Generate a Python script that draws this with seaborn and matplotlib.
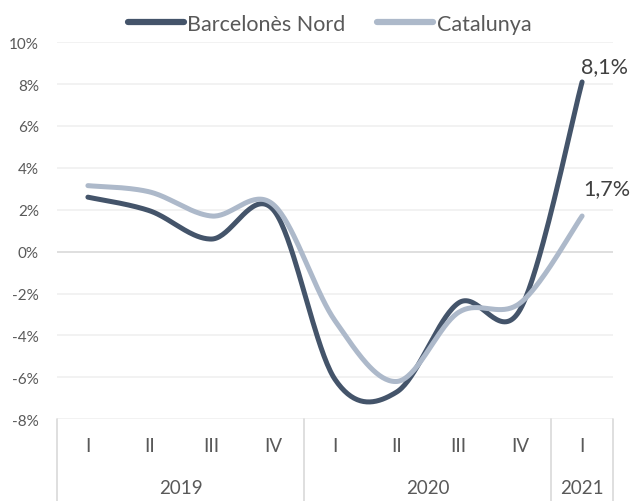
import numpy as np
import pandas as pd
import matplotlib.pyplot as plt
from matplotlib.path import Path
import seaborn as sns

# quarterly year-on-year change (%)
quarters = ["I", "II", "III", "IV", "I", "II", "III", "IV", "I"]
years = ["2019", "2020", "2021"]
year_len = [4, 4, 1]
barcelones_nord = [2.6, 1.95, 0.6, 2.0, -6.1, -6.7, -2.45, -2.75, 8.1]
catalunya = [3.15, 2.85, 1.7, 2.25, -3.3, -6.2, -2.9, -2.45, 1.7]
series_names = ["Barcelonès Nord", "Catalunya"]
colors = ["#44546A", "#ADB9CA"]
end_labels = ["8,1%", "1,7%"]


def smooth(ys, n=40):
    # Excel-like smoothed line: cubic Bezier segments with Catmull-Rom tangents
    p = np.column_stack([np.arange(len(ys), dtype=float), ys])
    verts, codes = [p[0]], [Path.MOVETO]
    for i in range(len(p) - 1):
        p0 = p[i - 1] if i > 0 else p[i]
        p3 = p[i + 2] if i + 2 < len(p) else p[i + 1]
        verts += [p[i] + (p[i + 1] - p0) / 6, p[i + 1] - (p3 - p[i]) / 6, p[i + 1]]
        codes += [Path.CURVE4] * 3
    path = Path(verts, codes)
    t = np.linspace(0, 1, n)
    return np.concatenate([seg(t) for seg, _ in path.iter_bezier()])


frames = []
for name, vals in zip(series_names, [barcelones_nord, catalunya]):
    pts = smooth(vals)
    frames.append(pd.DataFrame({"x": pts[:, 0], "y": pts[:, 1], "serie": name}))
df = pd.concat(frames, ignore_index=True)

sns.set_theme(style="white")
plt.rcParams["font.family"] = ["Lato", "DejaVu Sans"]
txt = "#595959"

fig = plt.figure(figsize=(6.3, 5.02), dpi=100)
ax = fig.add_axes([0.0905, 0.163, 0.8825, 0.751])

sns.lineplot(data=df, x="x", y="y", hue="serie", palette=colors, sort=False,
             estimator=None, linewidth=3.6, ax=ax)

ax.set_xlim(-0.5, len(quarters) - 0.5)
ax.set_ylim(-8, 10)
ax.set_yticks(range(-8, 11, 2))
ax.set_yticklabels([f"{v}%" for v in range(-8, 11, 2)], color=txt, fontsize=11)
ax.tick_params(axis="y", length=0, pad=13)
ax.set_xticks([])
ax.set_xlabel("")
ax.set_ylabel("")
for s in ax.spines.values():
    s.set_visible(False)
for v in range(-8, 11, 2):
    ax.axhline(v, color="#D9D9D9" if v == 0 else "#F0F0F0", lw=1.2, zorder=0)

# two-level category axis
bx = ax.get_xaxis_transform()
for i, q in enumerate(quarters):
    ax.text(i, -0.07, q, transform=bx, ha="center", va="center", color=txt, fontsize=13.5)
start = -0.5
seps = [start]
for yr, n in zip(years, year_len):
    ax.text(start + n / 2, -0.18, yr, transform=bx, ha="center", va="center",
            color=txt, fontsize=13.5)
    start += n
    seps.append(start)
for s in seps:
    ax.plot([s, s], [0, -0.23], transform=bx, color="#D9D9D9", lw=1.2, clip_on=False)

# end labels
n = len(quarters) - 1
ax.annotate(end_labels[0], (n, barcelones_nord[-1]), xytext=(16, 7), textcoords="offset points",
            ha="center", va="baseline", fontsize=15.5, color="#404040")
ax.annotate(end_labels[1], (n, catalunya[-1]), xytext=(18, 16), textcoords="offset points",
            ha="center", va="baseline", fontsize=15.5, color="#404040")

handles, labels = ax.get_legend_handles_labels()
for h in handles:
    h.set_linewidth(4.5)
ax.legend(handles, labels, loc="lower center", bbox_to_anchor=(0.49, 1.0), ncol=2,
          frameon=False, fontsize=15.5, handlelength=2.6, handletextpad=0.15,
          columnspacing=1.5, borderaxespad=0.0, labelcolor=txt)

fig.savefig("out.png", dpi=100)
